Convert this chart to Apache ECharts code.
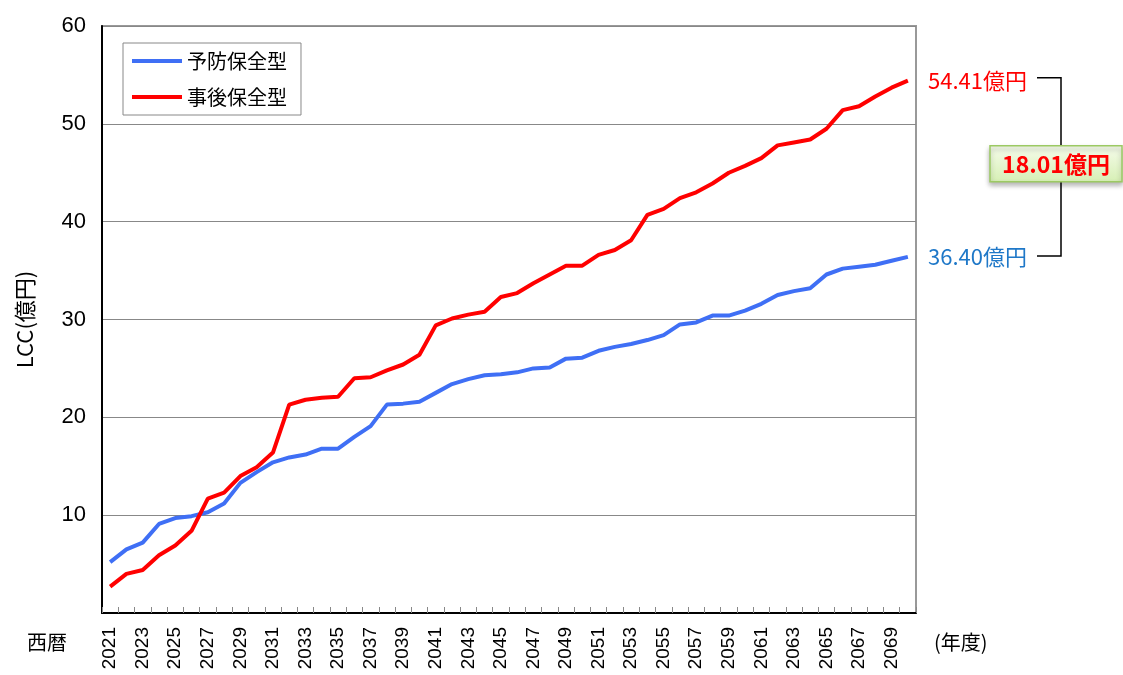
<!DOCTYPE html>
<html>
<head>
<meta charset="utf-8">
<style>
  html, body { margin: 0; padding: 0; background: #fff; }
  #main { width: 1123px; height: 675px; }
</style>
<script src="https://cdn.jsdelivr.net/npm/echarts@6/dist/echarts.min.js"></script>
</head>
<body>
<div id="main"></div>
<script>
// 年度
const years = ['2021','2022','2023','2024','2025','2026','2027','2028','2029','2030',
  '2031','2032','2033','2034','2035','2036','2037','2038','2039','2040',
  '2041','2042','2043','2044','2045','2046','2047','2048','2049','2050',
  '2051','2052','2053','2054','2055','2056','2057','2058','2059','2060',
  '2061','2062','2063','2064','2065','2066','2067','2068','2069','2070'];
// 予防保全型 (億円)
const yobou = [5.2, 6.5, 7.2, 9.1, 9.7, 9.9, 10.3, 11.2, 13.3, 14.4,
  15.4, 15.9, 16.2, 16.8, 16.8, 18.0, 19.1, 21.3, 21.4, 21.6,
  22.5, 23.4, 23.9, 24.3, 24.4, 24.6, 25.0, 25.1, 26.0, 26.1,
  26.8, 27.2, 27.5, 27.9, 28.4, 29.5, 29.7, 30.4, 30.4, 30.9,
  31.6, 32.5, 32.9, 33.2, 34.6, 35.2, 35.4, 35.6, 36.0, 36.40];
// 事後保全型 (億円)
const jigo = [2.7, 4.0, 4.4, 5.9, 6.9, 8.4, 11.7, 12.3, 14.0, 14.9,
  16.4, 21.3, 21.8, 22.0, 22.1, 24.0, 24.1, 24.8, 25.4, 26.4,
  29.4, 30.1, 30.5, 30.8, 32.3, 32.7, 33.7, 34.6, 35.5, 35.5,
  36.6, 37.1, 38.1, 40.7, 41.3, 42.4, 43.0, 43.9, 45.0, 45.7,
  46.5, 47.8, 48.1, 48.4, 49.5, 51.4, 51.8, 52.8, 53.7, 54.41];

const jpFont = '"Noto Sans CJK JP", sans-serif';
const numFont = '"Liberation Sans", Arial, sans-serif';

const chart = echarts.init(document.getElementById('main'));
const option = {
  animation: false,
  grid: {
    left: 102, right: 207, top: 26, bottom: 62,
    show: true, borderColor: '#999', borderWidth: 2
  },
  legend: {
    orient: 'vertical',
    left: 123, top: 43,
    padding: [8, 14, 8, 9],
    backgroundColor: '#fff',
    borderColor: '#888', borderWidth: 1,
    icon: 'rect',
    itemWidth: 50, itemHeight: 4, itemGap: 16,
    textStyle: { fontFamily: jpFont, fontSize: 20, lineHeight: 20, color: '#000' },
    data: ['予防保全型', '事後保全型']
  },
  xAxis: {
    type: 'category',
    data: years,
    boundaryGap: true,
    axisLine: { lineStyle: { color: '#000', width: 2 } },
    axisTick: { show: true, inside: true, interval: 0, length: 6, lineStyle: { color: '#888' } },
    axisLabel: { interval: 1, rotate: 90, margin: 14, fontFamily: numFont, fontSize: 19, color: '#000' },
    splitLine: { show: false }
  },
  yAxis: {
    type: 'value',
    min: 0, max: 60, interval: 10,
    name: 'LCC(億円)',
    nameLocation: 'middle',
    nameGap: 66,
    nameTextStyle: { fontFamily: jpFont, fontSize: 22, color: '#000' },
    axisLine: { show: true, lineStyle: { color: '#000', width: 2 } },
    axisTick: { show: false },
    axisLabel: { showMinLabel: false, margin: 16, fontFamily: numFont, fontSize: 22, color: '#000' },
    splitLine: { lineStyle: { color: '#888', width: 1 } }
  },
  series: [
    {
      name: '予防保全型', type: 'line', data: yobou,
      symbol: 'none', color: '#3f6ff5',
      lineStyle: { width: 4, color: '#3f6ff5' }
    },
    {
      name: '事後保全型', type: 'line', data: jigo,
      symbol: 'none', color: '#ff0000',
      lineStyle: { width: 4, color: '#ff0000' }
    }
  ]
};
chart.setOption(option);

// 右側の注記
const last = years.length - 1;
const yTop = chart.convertToPixel({ yAxisIndex: 0 }, jigo[last]);
const yBot = chart.convertToPixel({ yAxisIndex: 0 }, yobou[last]);
const diff = (jigo[last] - yobou[last]).toFixed(2);
const boxY = (yTop + yBot) / 2 - 23;
const bx = 1061;

chart.setOption({
  graphic: [
    { type: 'text', left: 27, top: 632, style: { text: '西暦', font: '20px ' + jpFont, fill: '#000' } },
    { type: 'text', left: 934, top: 632, style: { text: '(年度)', font: '20px ' + jpFont, fill: '#000' } },
    { type: 'text', x: 928, y: yTop, style: { text: jigo[last].toFixed(2) + '億円', font: '22px ' + jpFont, fill: '#ff0000', verticalAlign: 'middle' } },
    { type: 'text', x: 928, y: yBot, style: { text: yobou[last].toFixed(2) + '億円', font: '22px ' + jpFont, fill: '#1f78c8', verticalAlign: 'middle' } },
    { type: 'polyline', shape: { points: [[1037, yTop - 3], [bx, yTop - 3], [bx, boxY]] }, style: { stroke: '#000', lineWidth: 1.5, fill: null } },
    { type: 'polyline', shape: { points: [[1037, yBot - 1], [bx, yBot - 1], [bx, boxY + 36]] }, style: { stroke: '#000', lineWidth: 1.5, fill: null } },
    {
      type: 'rect', shape: { x: 990, y: boxY, width: 132, height: 36 },
      style: {
        fill: new echarts.graphic.LinearGradient(0, 0, 0, 1, [
          { offset: 0, color: '#f6fcec' }, { offset: 1, color: '#d6efb4' }
        ]),
        stroke: '#9cc963', lineWidth: 1.5,
        shadowBlur: 5, shadowOffsetY: 3, shadowColor: 'rgba(0,0,0,0.3)'
      }
    },
    { type: 'text', x: 1056, y: boxY + 18, style: { text: diff + '億円', font: 'bold 23px ' + jpFont, fill: '#ff0000', align: 'center', verticalAlign: 'middle' } }
  ]
});
</script>
</body>
</html>
